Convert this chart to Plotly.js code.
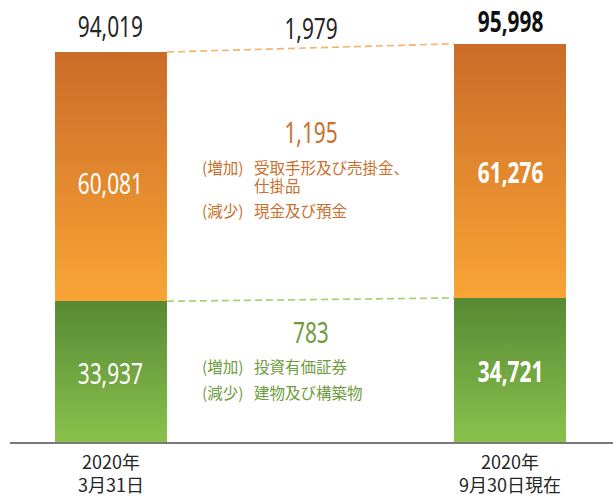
<!DOCTYPE html>
<html>
<head>
<meta charset="utf-8">
<script src="https://cdn.plot.ly/plotly-3.0.1.min.js"></script>
<style>
  html, body { margin: 0; padding: 0; background: #fff; }
  #chart { width: 613px; height: 497px; }
</style>
</head>
<body>
<div id="chart"></div>
<script>
// ---- data ----
const categories = ['2020年<br>3月31日', '2020年<br>9月30日現在'];
const greenValues = [33937, 34721];
const orangeValues = [60081, 61276];
const totalValues = [94019, 95998];
const totalLabels = ['94,019', '95,998'];
const orangeLabels = ['60,081', '61,276'];
const greenLabels = ['33,937', '34,721'];
const diffTotalLabel = '1,979';
const diffOrangeLabel = '1,195';
const diffGreenLabel = '783';
const orangeNotePrefixes = ['(増加)', '', '(減少)'];
const orangeNotes = ['受取手形及び売掛金、', '仕掛品', '現金及び預金'];
const greenNotePrefixes = ['(増加)', '(減少)'];
const greenNotes = ['投資有価証券', '建物及び構築物'];

// ---- style ----
const xPos = [0, 1];
const barWidth = 0.2807;
const numFont = 'Noto Sans, DejaVu Sans, sans-serif';
const jpFont = 'Noto Sans CJK JP, Noto Sans, sans-serif';
const dark = '#262626';
const orangeText = '#C8702C';
const greenText = '#6E9C40';
const numSize = 29;

const traces = [
  { type: 'bar', x: xPos, y: greenValues, width: barWidth, marker: { color: '#6FA23F', line: { width: 0 } }, hoverinfo: 'none' },
  { type: 'bar', x: xPos, y: orangeValues, width: barWidth, marker: { color: '#E48A30', line: { width: 0 } }, hoverinfo: 'none' },
  { type: 'scatter', mode: 'lines', x: [xPos[0] + barWidth / 2, xPos[1] - barWidth / 2], y: totalValues,
    line: { color: '#F7B167', width: 1.6, dash: '7px,4px' }, hoverinfo: 'none' },
  { type: 'scatter', mode: 'lines', x: [xPos[0] + barWidth / 2, xPos[1] - barWidth / 2], y: greenValues,
    line: { color: '#A5D06E', width: 1.6, dash: '7px,4px' }, hoverinfo: 'none' }
];

const annotations = [];
const numberIdx = [];
function addNum(a) { numberIdx.push(annotations.length); annotations.push(a); }
// totals above bars
totalLabels.forEach((t, i) => {
  addNum({ x: xPos[i], y: totalValues[i], xref: 'x', yref: 'y', text: i === 1 ? '<b>' + t + '</b>' : t,
    showarrow: false, xanchor: 'center', yanchor: 'bottom', yshift: i === 1 ? 2 : 5,
    font: { family: numFont, size: numSize, color: i === 1 ? '#111' : dark } });
});
// orange segment labels
orangeLabels.forEach((t, i) => {
  addNum({ x: xPos[i], y: greenValues[i] + orangeValues[i] / 2, xref: 'x', yref: 'y',
    text: i === 1 ? '<b>' + t + '</b>' : t, showarrow: false, xanchor: 'center', yanchor: 'middle',
    yshift: i === 1 ? -1 : -6, font: { family: numFont, size: numSize, color: '#fff' } });
});
// green segment labels
greenLabels.forEach((t, i) => {
  addNum({ x: xPos[i], y: greenValues[i] / 2, xref: 'x', yref: 'y',
    text: i === 1 ? '<b>' + t + '</b>' : t, showarrow: false, xanchor: 'center', yanchor: 'middle', yshift: -1,
    font: { family: numFont, size: numSize, color: '#fff' } });
});
// middle diff labels
addNum({ x: 0.5, y: 0.938, xref: 'x', yref: 'paper', text: diffTotalLabel, showarrow: false,
  xanchor: 'center', yanchor: 'middle', font: { family: numFont, size: numSize, color: dark } });
addNum({ x: 0.5, y: 0.7036, xref: 'x', yref: 'paper', text: diffOrangeLabel, showarrow: false,
  xanchor: 'center', yanchor: 'middle', font: { family: numFont, size: numSize, color: orangeText } });
addNum({ x: 0.5, y: 0.2489, xref: 'x', yref: 'paper', text: diffGreenLabel, showarrow: false,
  xanchor: 'center', yanchor: 'middle', font: { family: numFont, size: numSize, color: greenText } });

const prefixX = 0.3151, noteX = 0.4005;
const noteSize = 15.5;
const orangeRowY = [0.6215, 0.5815, 0.5249];
orangeNotes.forEach((t, i) => {
  if (orangeNotePrefixes[i]) annotations.push({ x: prefixX, y: orangeRowY[i], xref: 'paper', yref: 'paper',
    xanchor: 'left', yanchor: 'middle', text: orangeNotePrefixes[i], showarrow: false,
    font: { family: jpFont, size: noteSize, color: orangeText } });
  annotations.push({ x: noteX, y: orangeRowY[i], xref: 'paper', yref: 'paper', xanchor: 'left', yanchor: 'middle',
    text: t, showarrow: false, font: { family: jpFont, size: noteSize, color: orangeText } });
});
const greenRowY = [0.1719, 0.1131];
greenNotes.forEach((t, i) => {
  annotations.push({ x: prefixX, y: greenRowY[i], xref: 'paper', yref: 'paper', xanchor: 'left', yanchor: 'middle',
    text: greenNotePrefixes[i], showarrow: false, font: { family: jpFont, size: noteSize, color: greenText } });
  annotations.push({ x: noteX, y: greenRowY[i], xref: 'paper', yref: 'paper', xanchor: 'left', yanchor: 'middle',
    text: t, showarrow: false, font: { family: jpFont, size: noteSize, color: greenText } });
});

const layout = {
  width: 613, height: 497,
  margin: { l: 10, r: 0, t: 0, b: 55 },
  paper_bgcolor: '#fff', plot_bgcolor: '#fff',
  barmode: 'stack', showlegend: false,
  xaxis: {
    range: [-0.2531, 1.2581], tickvals: xPos, ticktext: categories,
    showline: true, linecolor: '#7a7a7a', linewidth: 2, showgrid: false, zeroline: false,
    ticks: 'outside', ticklen: 3, tickcolor: 'rgba(0,0,0,0)',
    tickfont: { family: jpFont, size: 18, color: dark }, fixedrange: true
  },
  yaxis: { range: [0, 106555], visible: false, showgrid: false, zeroline: false, fixedrange: true },
  annotations: annotations
};

Plotly.newPlot('chart', traces, layout, { displayModeBar: false, staticPlot: true }).then(gd => {
  const svg = gd.querySelector('.main-svg');
  const ns = 'http://www.w3.org/2000/svg';
  let defs = svg.querySelector('defs');
  if (!defs) { defs = document.createElementNS(ns, 'defs'); svg.insertBefore(defs, svg.firstChild); }
  function grad(id, c1, c2) {
    const g = document.createElementNS(ns, 'linearGradient');
    g.setAttribute('id', id); g.setAttribute('x1', '0'); g.setAttribute('y1', '0'); g.setAttribute('x2', '0'); g.setAttribute('y2', '1');
    [[0, c1], [1, c2]].forEach(([o, c]) => {
      const s = document.createElementNS(ns, 'stop');
      s.setAttribute('offset', o); s.setAttribute('stop-color', c); g.appendChild(s);
    });
    defs.appendChild(g);
  }
  grad('gGreen', '#588934', '#89C14C');
  grad('gOrange', '#CA6B28', '#F9A535');
  const barTraces = gd.querySelectorAll('.barlayer .trace.bars');
  const ids = ['gGreen', 'gOrange'];
  barTraces.forEach((t, i) => {
    t.querySelectorAll('.point path').forEach(p => { p.style.fill = 'url(#' + ids[i] + ')'; });
  });
  // condensed look for the numeric labels
  const annGroups = gd.querySelectorAll('.annotation');
  numberIdx.forEach(idx => {
    const g = gd.querySelector('.annotation[data-index="' + idx + '"]') || annGroups[idx];
    if (!g) return;
    const txt = g.querySelector('text.annotation-text');
    if (!txt) return;
    const bb = txt.getBBox();
    const cx = bb.x + bb.width / 2;
    const prev = txt.getAttribute('transform') || '';
    txt.setAttribute('transform', prev + ' translate(' + cx + ',0) scale(0.72,1) translate(' + (-cx) + ',0)');
  });
});
</script>
</body>
</html>
